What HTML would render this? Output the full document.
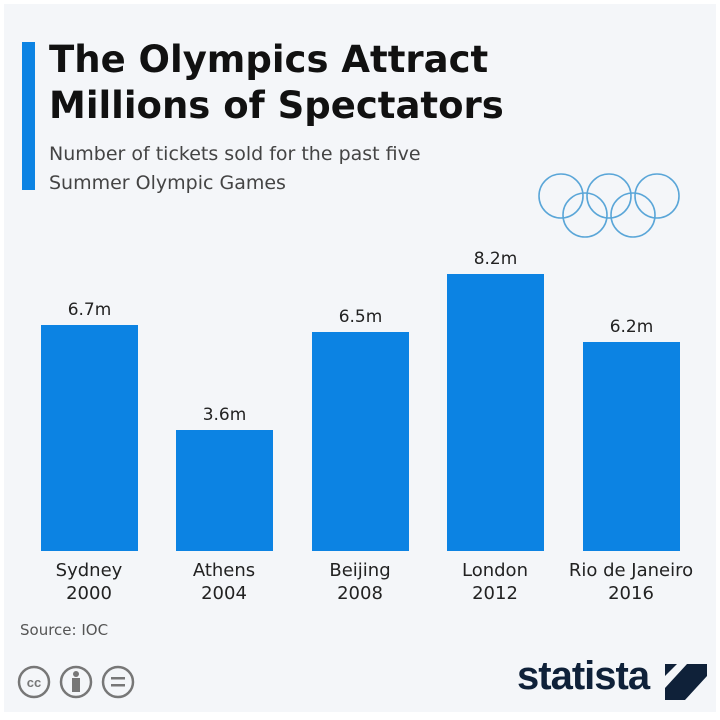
<!DOCTYPE html>
<html><head><meta charset="utf-8"><style>
html,body{margin:0;padding:0}
body{width:720px;height:720px;background:#fff;position:relative;overflow:hidden;font-family:"DejaVu Sans","Liberation Sans",sans-serif}
.panel{position:absolute;left:4px;top:4px;width:712px;height:708px;background:#f4f6f9}
.abs{position:absolute}
.bar{position:absolute;background:#0c83e3;width:97px}
.val{position:absolute;width:97px;text-align:center;font-size:17px;color:#222}
.cat{position:absolute;width:140px;text-align:center;font-size:18px;line-height:23px;color:#222}
</style></head><body>
<div class="panel"></div>
<div class="abs" style="left:22px;top:42px;width:13px;height:148px;background:#0c83e3"></div>
<div class="abs" style="left:49px;top:37px;font-size:37px;font-weight:bold;line-height:46px;color:#111;letter-spacing:0px">The Olympics Attract<br>Millions of Spectators</div>
<div class="abs" style="left:49px;top:140px;font-size:19px;line-height:29px;color:#444">Number of tickets sold for the past five<br>Summer Olympic Games</div>
<svg class="abs" style="left:530px;top:168px" width="160" height="75" viewBox="0 0 160 75">
<g fill="none" stroke="#5aa6d8" stroke-width="1.6">
<circle cx="31" cy="28" r="22"/><circle cx="79" cy="28" r="22"/><circle cx="127" cy="28" r="22"/>
<circle cx="55" cy="47" r="22"/><circle cx="103" cy="47" r="22"/></g></svg>

<div class="bar" style="left:41px;top:325px;height:226px"></div>
<div class="val" style="left:41px;top:300px">6.7m</div>
<div class="bar" style="left:176px;top:430px;height:121px"></div>
<div class="val" style="left:176px;top:405px">3.6m</div>
<div class="bar" style="left:312px;top:332px;height:219px"></div>
<div class="val" style="left:312px;top:307px">6.5m</div>
<div class="bar" style="left:447px;top:274px;height:277px"></div>
<div class="val" style="left:447px;top:249px">8.2m</div>
<div class="bar" style="left:583px;top:342px;height:209px"></div>
<div class="val" style="left:583px;top:317px">6.2m</div>

<div class="cat" style="left:19px;top:559px">Sydney<br>2000</div>
<div class="cat" style="left:154px;top:559px">Athens<br>2004</div>
<div class="cat" style="left:290px;top:559px">Beijing<br>2008</div>
<div class="cat" style="left:425px;top:559px">London<br>2012</div>
<div class="cat" style="left:561px;top:559px">Rio de Janeiro<br>2016</div>

<div class="abs" style="left:20px;top:621px;font-size:15px;color:#555">Source: IOC</div>
<svg class="abs" style="left:14px;top:662px" width="130" height="40">
<g fill="none" stroke="#777" stroke-width="2.5">
<circle cx="20" cy="20" r="15"/><circle cx="62" cy="20" r="15"/><circle cx="104" cy="20" r="15"/></g>
<text x="20" y="25" font-size="13" font-weight="bold" text-anchor="middle" fill="#777" font-family="Liberation Sans">cc</text>
<circle cx="62" cy="12" r="3" fill="#777"/><rect x="58" y="16" width="8" height="14" fill="#777"/>
<rect x="97" y="15" width="14" height="2.5" fill="#777"/><rect x="97" y="22" width="14" height="2.5" fill="#777"/>
</svg>
<div class="abs" style="left:517px;top:654px;font-size:40px;font-weight:bold;color:#0f2139;letter-spacing:-1px;font-family:'Liberation Sans Narrow','Liberation Sans',sans-serif">statista</div>
<svg class="abs" style="left:665px;top:664px" width="42" height="36">
<path d="M0 0H42V12L20 36H0V24L22 0Z" fill="#0f2139"/>
<path d="M0 12 L12 0 H0Z" fill="#0f2139"/>
</svg>
</body></html>
